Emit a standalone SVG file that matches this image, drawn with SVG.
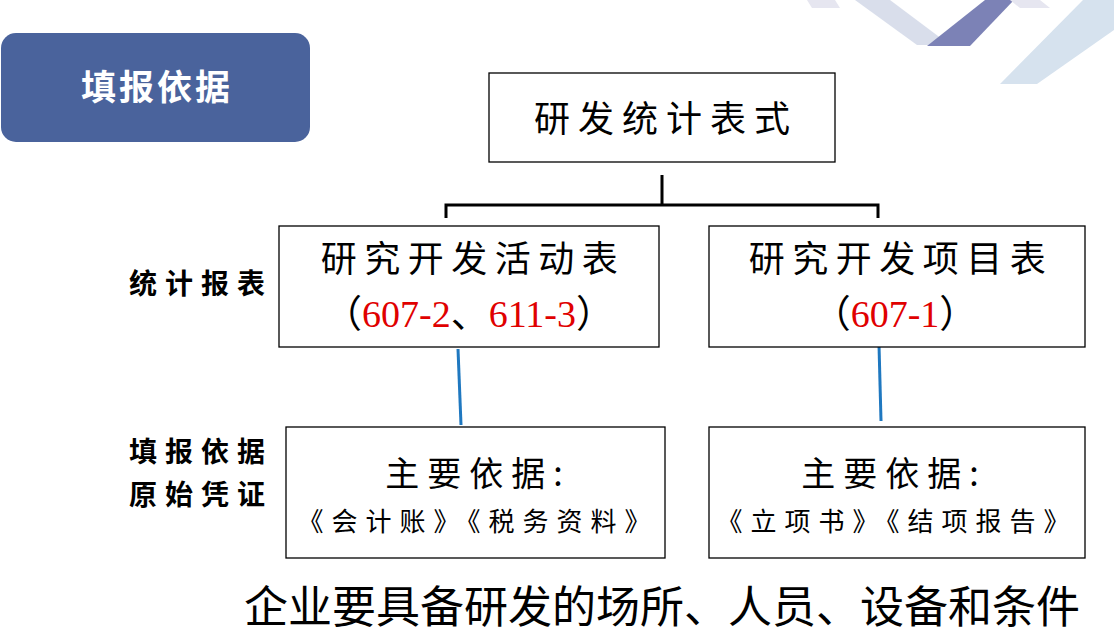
<svg xmlns="http://www.w3.org/2000/svg" width="1114" height="636" viewBox="0 0 1114 636">
<style>
.b{fill:#fff;stroke:#000;stroke-width:1.3}
.t{font-family:"Noto Sans CJK SC","Noto Sans",sans-serif;fill:#000}
.r{fill:#e00000}
.c{stroke:#1f78c0;stroke-width:3}
</style>
<rect width="1114" height="636" fill="#fff"/>
<g id="deco">
<polygon points="807,0 835,0 840,8 812,8" fill="#e6e6f0"/>
<polygon points="855,0 890,0 950,45 917,45" fill="#d0d6e6" opacity="0.8"/>
<polygon points="985,0 1014,0 970,46 927,46" fill="#7c82b6"/>
<polygon points="1010,0 1040,0 1050,8 1020,8" fill="#e6e6f0"/>
<polygon points="1083,0 1114,0 1114,30 1037,84 1000,84" fill="#d6e2ee"/>
</g>
<g id="title">
<rect x="1" y="33" width="309" height="109" rx="15" fill="#4a639c"/>
<text x="157" y="100" text-anchor="middle" font-size="35" font-weight="bold" class="t" letter-spacing="3" style="fill:#fff">填报依据</text>
</g>
<g id="connectors" fill="none">
<path d="M662,175V205M446,218V205H878V218" stroke="#000" stroke-width="3"/>
<line class="c" x1="458" y1="349" x2="461" y2="425"/>
<line class="c" x1="879" y1="345" x2="881" y2="421"/>
</g>
<g id="top"><rect class="b" x="489" y="73" width="346" height="89"/>
<text x="666" y="132" text-anchor="middle" font-size="36" class="t" letter-spacing="8">研发统计表式</text></g>
<g id="act"><rect class="b" x="279" y="226" width="380" height="121"/>
<text x="473" y="272" text-anchor="middle" font-size="36" class="t" letter-spacing="7.5">研究开发活动表</text>
<text x="469" y="327" text-anchor="middle" font-size="38" class="t">（<tspan class="r" font-family="Liberation Serif,serif">607-2</tspan>、<tspan class="r" font-family="Liberation Serif,serif">611-3</tspan>）</text></g>
<g id="proj"><rect class="b" x="709" y="226" width="376" height="121"/>
<text x="901" y="272" text-anchor="middle" font-size="36" class="t" letter-spacing="7.5">研究开发项目表</text>
<text x="895" y="327" text-anchor="middle" font-size="38" class="t">（<tspan class="r" font-family="Liberation Serif,serif">607-1</tspan>）</text></g>
<g id="lab1"><text x="201" y="294" text-anchor="middle" font-size="28" font-weight="bold" class="t" letter-spacing="8">统计报表</text></g>
<g id="lab2"><text x="201" y="462" text-anchor="middle" font-size="28" font-weight="bold" class="t" letter-spacing="8">填报依据</text>
<text x="201" y="505" text-anchor="middle" font-size="28" font-weight="bold" class="t" letter-spacing="8">原始凭证</text></g>
<g id="b1"><rect class="b" x="286" y="427" width="379" height="131"/>
<text x="478" y="486" text-anchor="middle" font-size="34" class="t" letter-spacing="8">主要依据:</text>
<text x="478" y="531" text-anchor="middle" font-size="26" class="t" letter-spacing="8">《会计账》《税务资料》</text></g>
<g id="b2"><rect class="b" x="709" y="427" width="376" height="131"/>
<text x="894" y="486" text-anchor="middle" font-size="34" class="t" letter-spacing="8">主要依据:</text>
<text x="897" y="531" text-anchor="middle" font-size="26" class="t" letter-spacing="8">《立项书》《结项报告》</text></g>
<g id="foot"><text x="662" y="623" text-anchor="middle" font-size="44" class="t">企业要具备研发的场所、人员、设备和条件</text></g>
</svg>
